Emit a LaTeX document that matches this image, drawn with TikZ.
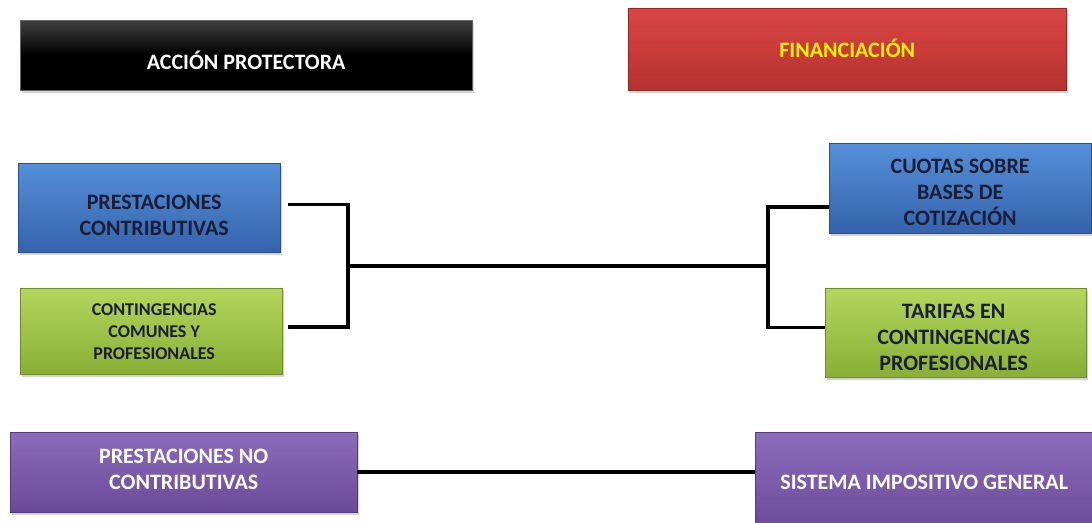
\documentclass[tikz,border=0pt]{standalone}
\usepackage{fontspec}
\setmainfont{Carlito}
\usetikzlibrary{shadows,calc}
\definecolor{redtop}{HTML}{DB4644}
\definecolor{redbot}{HTML}{B5312F}
\definecolor{bluetop}{HTML}{5590D8}
\definecolor{bluebot}{HTML}{3463AC}
\definecolor{greentop}{HTML}{B4D65E}
\definecolor{greenbot}{HTML}{88B034}
\definecolor{purptop}{HTML}{8C6BBB}
\definecolor{purpbot}{HTML}{6A4A98}
\definecolor{darktext}{HTML}{1B1E36}
\definecolor{titleyellow}{HTML}{FFF200}
\tikzset{
  box/.style={rectangle, anchor=north west, inner sep=0pt,
    drop shadow={shadow xshift=2pt, shadow yshift=-3pt, opacity=0.35}},
  bigtext/.style={align=center, inner sep=0pt, font=\bfseries\fontsize{22}{26}\selectfont},
  smalltext/.style={align=center, inner sep=0pt, font=\bfseries\fontsize{18}{22}\selectfont},
  blackbox/.style={box, top color=black!75, bottom color=black, middle color=black, draw=black!60},
  redbox/.style={box, top color=redtop, bottom color=redbot, draw=redbot!80!black},
  bluebox/.style={box, top color=bluetop, bottom color=bluebot, draw=bluebot!80!black},
  greenbox/.style={box, top color=greentop, bottom color=greenbot, draw=greenbot!80!black},
  purpbox/.style={box, top color=purptop, bottom color=purpbot, draw=purpbot!80!black},
  conn/.style={draw=black, line width=3.5pt},
}
\begin{document}
\begin{tikzpicture}[x=1pt,y=-1pt]
\useasboundingbox (0,0) rectangle (1092,522);
\node[blackbox, minimum width=452pt, minimum height=70pt,
  label={[bigtext, text=white, yshift=-5pt]center:ACCIÓN PROTECTORA}] (ap) at (20,20) {};
\node[redbox, minimum width=438pt, minimum height=82pt,
  label={[bigtext, text=titleyellow, yshift=1pt]center:FINANCIACIÓN}] (fi) at (628,8) {};
\node[bluebox, minimum width=262pt, minimum height=89pt,
  label={[bigtext, text=darktext, xshift=5pt, yshift=-8pt]center:{PRESTACIONES\\CONTRIBUTIVAS}}] (pc) at (18,163) {};
\node[greenbox, minimum width=262pt, minimum height=86pt,
  label={[smalltext, text=darktext, xshift=3pt]center:{CONTINGENCIAS\\COMUNES Y\\PROFESIONALES}}] (cc) at (20,288) {};
\node[bluebox, minimum width=262pt, minimum height=90pt,
  label={[bigtext, text=darktext, yshift=-4pt]center:{CUOTAS SOBRE\\BASES DE\\COTIZACIÓN}}] (cu) at (829,143) {};
\node[greenbox, minimum width=261pt, minimum height=89pt,
  label={[bigtext, text=darktext, xshift=-2pt, yshift=-5pt]center:{TARIFAS EN\\CONTINGENCIAS\\PROFESIONALES}}] (ta) at (825,288) {};
\node[purpbox, minimum width=347pt, minimum height=80pt,
  label={[bigtext, text=white, yshift=2.5pt]center:{PRESTACIONES NO\\CONTRIBUTIVAS}}] (pn) at (10,432) {};
\node[purpbox, minimum width=338pt, minimum height=100pt,
  label={[bigtext, text=white]center:SISTEMA IMPOSITIVO GENERAL}] (si) at (755,432) {};
\coordinate (jl) at (348,266);
\coordinate (jr) at (768,266);
\draw[conn] ([xshift=8pt,yshift=3pt]pc.east) -| (jl) |- ([xshift=6pt,yshift=4pt]cc.east);
\draw[conn] (jl) -- (jr);
\draw[conn] ([yshift=-19pt]cu.west) -| (jr) |- ([yshift=5pt]ta.west);
\draw[conn] (pn.east) -- (pn.east -| si.west);
\end{tikzpicture}
\end{document}
